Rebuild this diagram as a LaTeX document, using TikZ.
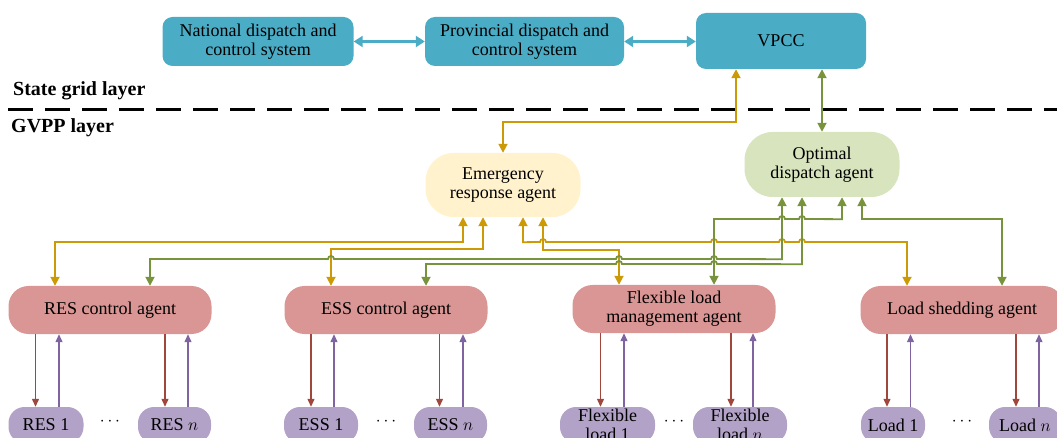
\documentclass[tikz,border=0pt]{standalone}
\usepackage{fontspec}
\setmainfont{Liberation Serif}
\usetikzlibrary{arrows.meta}
\definecolor{sysblue}{HTML}{4BACC6}
\definecolor{emgfill}{HTML}{FFF2CC}
\definecolor{optfill}{HTML}{D7E4BD}
\definecolor{agentfill}{HTML}{D99694}
\definecolor{unitfill}{HTML}{B3A2C7}
\definecolor{emgline}{HTML}{CC9A06}
\definecolor{optline}{HTML}{77933C}
\definecolor{downline}{HTML}{A0473D}
\definecolor{upline}{HTML}{8064A2}
\tikzstyle{sysbox}=[rectangle, rounded corners=10pt, fill=sysblue, align=center, inner sep=0pt]
\tikzstyle{emgbox}=[rectangle, rounded corners=28pt, fill=emgfill, align=center, minimum width=155pt, minimum height=64pt]
\tikzstyle{optbox}=[rectangle, rounded corners=28pt, fill=optfill, align=center, minimum width=155pt, minimum height=65pt]
\tikzstyle{agentbox}=[rectangle, rounded corners=20pt, fill=agentfill, align=center, minimum width=203pt, minimum height=48pt, inner sep=0pt]
\tikzstyle{unitbox}=[rectangle, rounded corners=16pt, fill=unitfill, align=center, minimum height=36pt, inner sep=0pt]
\tikzstyle{syslink}=[sysblue, line width=2.6pt, {Triangle[width=11pt,length=9pt]}-{Triangle[width=11pt,length=9pt]}]
\tikzstyle{emglink}=[emgline, line width=1.8pt, {Triangle[width=9pt,length=9pt]}-{Triangle[width=9pt,length=9pt]}]
\tikzstyle{optlink}=[optline, line width=1.8pt, {Triangle[width=9pt,length=9pt]}-{Triangle[width=9pt,length=9pt]}]
\tikzstyle{tounit}=[downline, line width=1.2pt, -{Triangle[width=7pt,length=8pt]}]
\tikzstyle{toagent}=[upline, line width=1.2pt, -{Triangle[width=7pt,length=8pt]}]
\tikzstyle{layerlabel}=[anchor=west, inner sep=0pt, font=\fontsize{20}{22}\selectfont\bfseries]
\tikzstyle{layerline}=[black, line width=3.2pt, dash pattern=on 25pt off 12pt]
\newcommand{\hopR}[2]{-- (#1-3,#2) arc[start angle=180,end angle=0,radius=3pt]}
\newcommand{\hopL}[2]{-- (#1+3,#2) arc[start angle=0,end angle=180,radius=3pt]}

\begin{document}
\begin{tikzpicture}[x=1pt,y=-1pt,every node/.style={font=\fontsize{18}{19}\selectfont}]
\useasboundingbox (0,0) rectangle (1057,438);
\clip (0,0) rectangle (1057,438);

\node[sysbox, minimum width=191pt, minimum height=49pt] (nat) at (258,41.5) {National dispatch and\\control system};
\node[sysbox, minimum width=199pt, minimum height=49pt] (prov) at (524.5,41.5) {Provincial dispatch and\\control system};
\node[sysbox, minimum width=170pt, minimum height=56pt] (vpcc) at (781,41) {VPCC};
\draw[syslink] (nat.east) -- (prov.west);
\draw[syslink] (prov.east) -- (prov.east -| vpcc.west);

\node[layerlabel] (sgl) at (13,91) {State grid layer};
\draw[layerline] (8,109.5) -- (1057,109.5);
\node[layerlabel] (gvl) at (11,128) {GVPP layer};

\node[emgbox] (emg) at (503,185) {Emergency\\response agent};
\node[optbox] (opt) at (822,164.5) {Optimal\\dispatch agent};

\node[agentbox] (res) at (110,310) {RES control agent};
\node[agentbox] (ess) at (386,310) {ESS control agent};
\node[agentbox] (flm) at (674,309) {Flexible load\\management agent};
\node[agentbox] (lsa) at (962,310) {Load shedding agent};

\foreach \nm/\x/\w/\txt in {r1/46/75/RES 1, rn/174.5/73/RES $n$, e1/321/74/ESS 1, en/450.5/73/ESS $n$,
  f1/607.5/95/{Flexible\\load 1}, fn/740/94/{Flexible\\load $n$}, l1/893/64/Load 1, ln/1025/72/Load $n$}
  \node[unitbox, minimum width=\w pt] (\nm) at (\x,425) {\txt};

\foreach \ag/\a in {res/r1, ess/e1, flm/f1, lsa/l1}
  \node[yshift=3pt] (dots\ag) at (\ag |- \a) {$\cdots$};

\foreach \nm/\ag/\dx/\ux in {r1/res/-10.5/13, rn/res/-9.5/13.5, e1/ess/-10/13, en/ess/-11/12.5,
  f1/flm/-7/16.5, fn/flm/-9/13, l1/lsa/-6/17.5, ln/lsa/-9/14} {
  \path ([xshift=\dx pt]\nm.north) coordinate (d) ([xshift=\ux pt]\nm.north) coordinate (u);
  \draw[tounit] (d |- \ag.south) -- (d);
  \draw[toagent] (u) -- (u |- \ag.south);
}

\draw[emglink] (emg.north) -- ++(0,-31) -| ([xshift=-45pt]vpcc.south);
\draw[optlink] (opt.north) -- (opt.north |- vpcc.south);

\draw[emglink] ([xshift=-40pt]emg.south) -- ++(0,25) -| ([xshift=-55pt]res.north);
\draw[emglink] ([xshift=-20pt]emg.south) -- ++(0,32) -| ([xshift=-55pt]ess.north);
\draw[emglink] ([xshift=20pt]emg.south) -- ++(0,25) \hopR{543}{242} \hopR{714}{242} \hopR{782}{242} \hopR{802}{242} -| ([xshift=-55pt]lsa.north);
\draw[emglink] ([xshift=40pt]emg.south) -- ++(0,33) -| ([xshift=-55pt]flm.north);

\draw[optlink] ([xshift=-40pt]opt.south) -- ++(0,62) \hopL{714}{259} \hopL{619}{259} \hopL{331}{259} -| ([xshift=40pt]res.north);
\draw[optlink] ([xshift=-20pt]opt.south) -- ++(0,67) \hopL{714}{264} \hopL{619}{264} -| ([xshift=40pt]ess.north);
\draw[optlink] ([xshift=20pt]opt.south) -- ++(0,22) \hopL{802}{219} \hopL{782}{219} -| ([xshift=40pt]flm.north);
\draw[optlink] ([xshift=40pt]opt.south) -- ++(0,22) -| ([xshift=40pt]lsa.north);
\end{tikzpicture}
\end{document}
